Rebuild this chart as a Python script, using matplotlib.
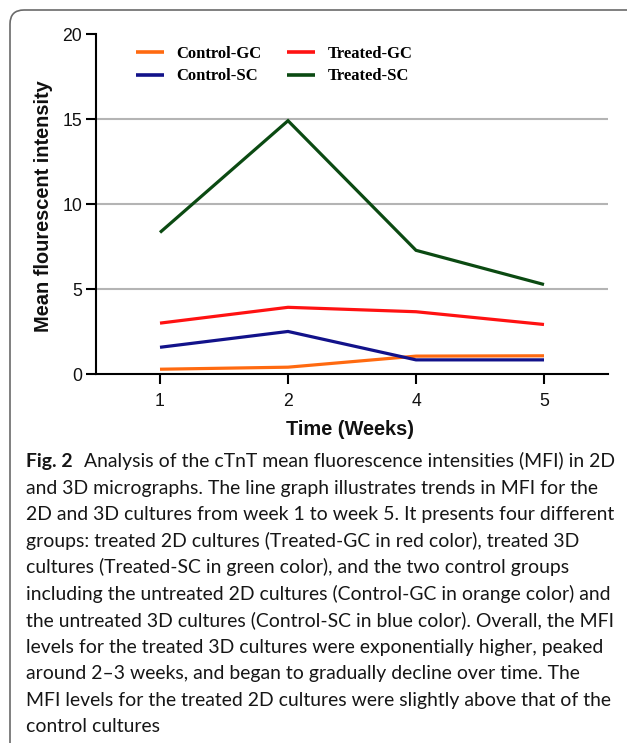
import matplotlib
matplotlib.use('Agg')
import matplotlib.pyplot as plt
from matplotlib.patches import FancyBboxPatch
from matplotlib.transforms import IdentityTransform
import numpy as np

# ---------------- data ----------------
weeks = ['1', '2', '4', '5']
control_gc = [0.31, 0.43, 1.08, 1.10]
control_sc = [1.60, 2.53, 0.86, 0.86]
treated_gc = [3.02, 3.95, 3.69, 2.94]
treated_sc = [8.35, 14.92, 7.30, 5.29]
series_names = ['Control-GC', 'Control-SC', 'Treated-GC', 'Treated-SC']
series_colors = ['#FF6A10', '#12128A', '#FF1212', '#0B4A12']
y_ticks = [0, 5, 10, 15, 20]
y_label = 'Mean flourescent intensity'
x_label = 'Time (Weeks)'

caption_head = 'Fig. 2'
caption_lines = [
    'Analysis of the cTnT mean fluorescence intensities (MFI) in 2D',
    'and 3D micrographs. The line graph illustrates trends in MFI for the',
    '2D and 3D cultures from week 1 to week 5. It presents four different',
    'groups: treated 2D cultures (Treated-GC in red color), treated 3D',
    'cultures (Treated-SC in green color), and the two control groups',
    'including the untreated 2D cultures (Control-GC in orange color) and',
    'the untreated 3D cultures (Control-SC in blue color). Overall, the MFI',
    'levels for the treated 3D cultures were exponentially higher, peaked',
    'around 2\u20133 weeks, and began to gradually decline over time. The',
    'MFI levels for the treated 2D cultures were slightly above that of the',
    'control cultures',
]

# ---------------- figure ----------------
W, H = 627, 743
fig = plt.figure(figsize=(W / 100, H / 100), dpi=100)
fig.patch.set_facecolor('white')


def fx(px):
    return px / W


def fy(py):
    return 1 - py / H


ax_left, ax_right, ax_top, ax_bottom = 96, 608, 34.3, 374.5
ax = fig.add_axes([fx(ax_left), fy(ax_bottom), (ax_right - ax_left) / W,
                   (ax_bottom - ax_top) / H])

x = np.arange(len(weeks))
for vals, name, col in zip([control_gc, control_sc, treated_gc, treated_sc],
                           series_names, series_colors):
    ax.plot(x, vals, color=col, lw=2.3, label=name,
            solid_joinstyle='miter', solid_capstyle='butt', zorder=3)

ax.set_xlim(-0.5, 3.5)
ax.set_ylim(0, 20)
ax.set_xticks(x, weeks)
ax.set_yticks(y_ticks)

for s in ['top', 'right']:
    ax.spines[s].set_visible(False)
for s in ['left', 'bottom']:
    ax.spines[s].set_linewidth(1.5)
    ax.spines[s].set_color('black')
    ax.spines[s].set_zorder(4)

ax.set_axisbelow(True)
ax.yaxis.grid(True, color='#b4b4b4', lw=1.5)
gl = ax.get_ygridlines()
gl[0].set_visible(False)
gl[-1].set_visible(False)

ax.tick_params(axis='both', direction='out', length=7.5, width=1.5,
               color='black', labelsize=12.7, labelcolor='#111111')
ax.tick_params(axis='x', pad=5.5)
ax.tick_params(axis='y', pad=2.5)
for lab in ax.get_xticklabels() + ax.get_yticklabels():
    lab.set_family('Liberation Sans')

fig.text(fx(43.5), fy(206), y_label, rotation=90, ha='center', va='center',
         fontsize=14.4, fontweight='bold', family='Liberation Sans',
         color='#111111')
fig.text(fx(350), fy(435), x_label, ha='center', va='baseline',
         fontsize=14.4, fontweight='bold', family='Liberation Sans',
         color='#111111')

leg = ax.legend(loc='upper left', bbox_to_anchor=(fx(135.7), fy(45.5)),
                bbox_transform=fig.transFigure, ncol=2, frameon=False,
                prop=dict(family='Liberation Serif', weight='bold', size=12),
                handlelength=1.7, handletextpad=0.72, columnspacing=1.55,
                labelspacing=0.42, borderpad=0, borderaxespad=0)
for line in leg.get_lines():
    line.set_linewidth(2.6)

# ---------------- frame ----------------
frame = FancyBboxPatch((10, -60), 800, (H - 10) + 60,
                       boxstyle='round,pad=0,rounding_size=14',
                       fill=False, edgecolor='#6a6a6a', lw=1.2,
                       transform=IdentityTransform())
fig.add_artist(frame)

# ---------------- caption ----------------
cap_font = 'Lato'
renderer = fig.canvas.get_renderer()
probe = fig.text(0, 0, caption_lines[5], fontsize=10, family=cap_font)
w10 = probe.get_window_extent(renderer).width
probe.remove()
cap_size = 10 * (612 - 26) / w10

base0, step, left = 467.5, 26.45, 26
head = fig.text(fx(left), fy(base0), caption_head, fontsize=cap_size,
                family=cap_font, fontweight='bold', ha='left', va='baseline',
                color='#161616')
hw = head.get_window_extent(renderer).x1
for i, line in enumerate(caption_lines):
    xpos = left if i > 0 else hw + 11
    fig.text(fx(xpos), fy(base0 + i * step), line, fontsize=cap_size,
             family=cap_font, ha='left', va='baseline', color='#161616')

fig.savefig('out.png', dpi=100)
